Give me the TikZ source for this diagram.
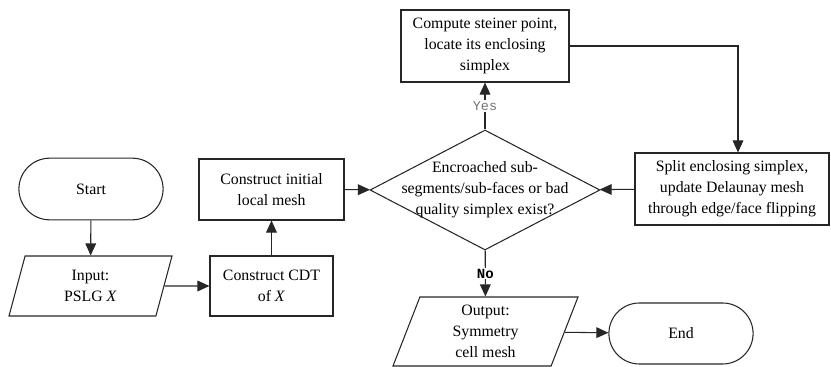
\documentclass[tikz,border=0pt]{standalone}
\usepackage{fontspec}
\setmainfont{Liberation Serif}
\setmonofont{Liberation Mono}
\usetikzlibrary{shapes.geometric, shapes.misc, arrows.meta}
\tikzset{
	box/.style={draw, rectangle, align=center, inner sep=0pt},
	terminal/.style={draw, rounded rectangle, align=center, minimum width=4.56cm, minimum height=1.85cm},
	io/.style={draw, trapezium, trapezium left angle=63, trapezium right angle=117, trapezium stretches body, align=center, inner sep=0pt},
	decision/.style={draw, diamond, inner sep=0pt, minimum width=6.9cm, minimum height=3.6cm},
	flow/.style={-{Triangle[length=3.6mm, width=3.2mm]}},
	answer/.style={fill=white, inner sep=1pt, font=\ttfamily}
}
\begin{document}
\begin{tikzpicture}[x=0.03cm, y=-0.03cm, line width=0.9pt, draw=black!85, font=\fontsize{13.5}{18}\selectfont]
	\useasboundingbox (0, 0) rectangle (831, 367);
	\node[terminal] (Start) at (91, 189) {Start};
	\node[io, minimum width=4.89cm, minimum height=1.8cm] (Input) at (90.5, 286) {Input:\\PSLG \textit{X}};
	\node[box, minimum width=3.69cm, minimum height=1.8cm] (Construct CDT) at (271.5, 286) {Construct CDT\\of \textit{X}};
	\node[box, minimum width=4.35cm, minimum height=1.83cm] (Initial Mesh) at (271.5, 189.5) {Construct initial\\local mesh};
	\node[decision, label={[align=center]center:Encroached sub-\\segments/sub-faces or bad\\quality simplex exist?}] (Check) at (485, 190) {};
	\node[box, minimum width=5.04cm, minimum height=2.16cm] (Steiner Point) at (485, 46) {Compute steiner point,\\locate its enclosing\\simplex};
	\node[box, minimum width=5.82cm, minimum height=2.16cm] (Split Simplex) at (732, 189) {Split enclosing simplex,\\update Delaunay mesh\\through edge/face flipping};
	\node[io, minimum width=5.55cm, minimum height=2.07cm] (Output) at (485.5, 331.5) {Output:\\Symmetry\\cell mesh};
	\node[terminal, minimum height=1.83cm] (End) at (681, 333.5) {End};
	\draw[flow] (Start) -- (Input);
	\draw[flow] (Input) -- (Construct CDT);
	\draw[flow] (Construct CDT) -- (Initial Mesh);
	\draw[flow] (Initial Mesh) -- (Check);
	\draw[flow] (Check) -- node[answer, text=black!55, font=\fontsize{11.5}{12}\ttfamily] {Yes} (Steiner Point);
	\draw[flow] (Steiner Point) -| ([xshift=0.18cm]Split Simplex.north);
	\draw[flow] (Split Simplex) -- (Check);
	\draw[flow] (Check) -- node[answer, font=\fontsize{12}{12}\ttfamily\bfseries] {No} (Output);
	\draw[flow] (Output) -- (End);
\end{tikzpicture}
\end{document}
